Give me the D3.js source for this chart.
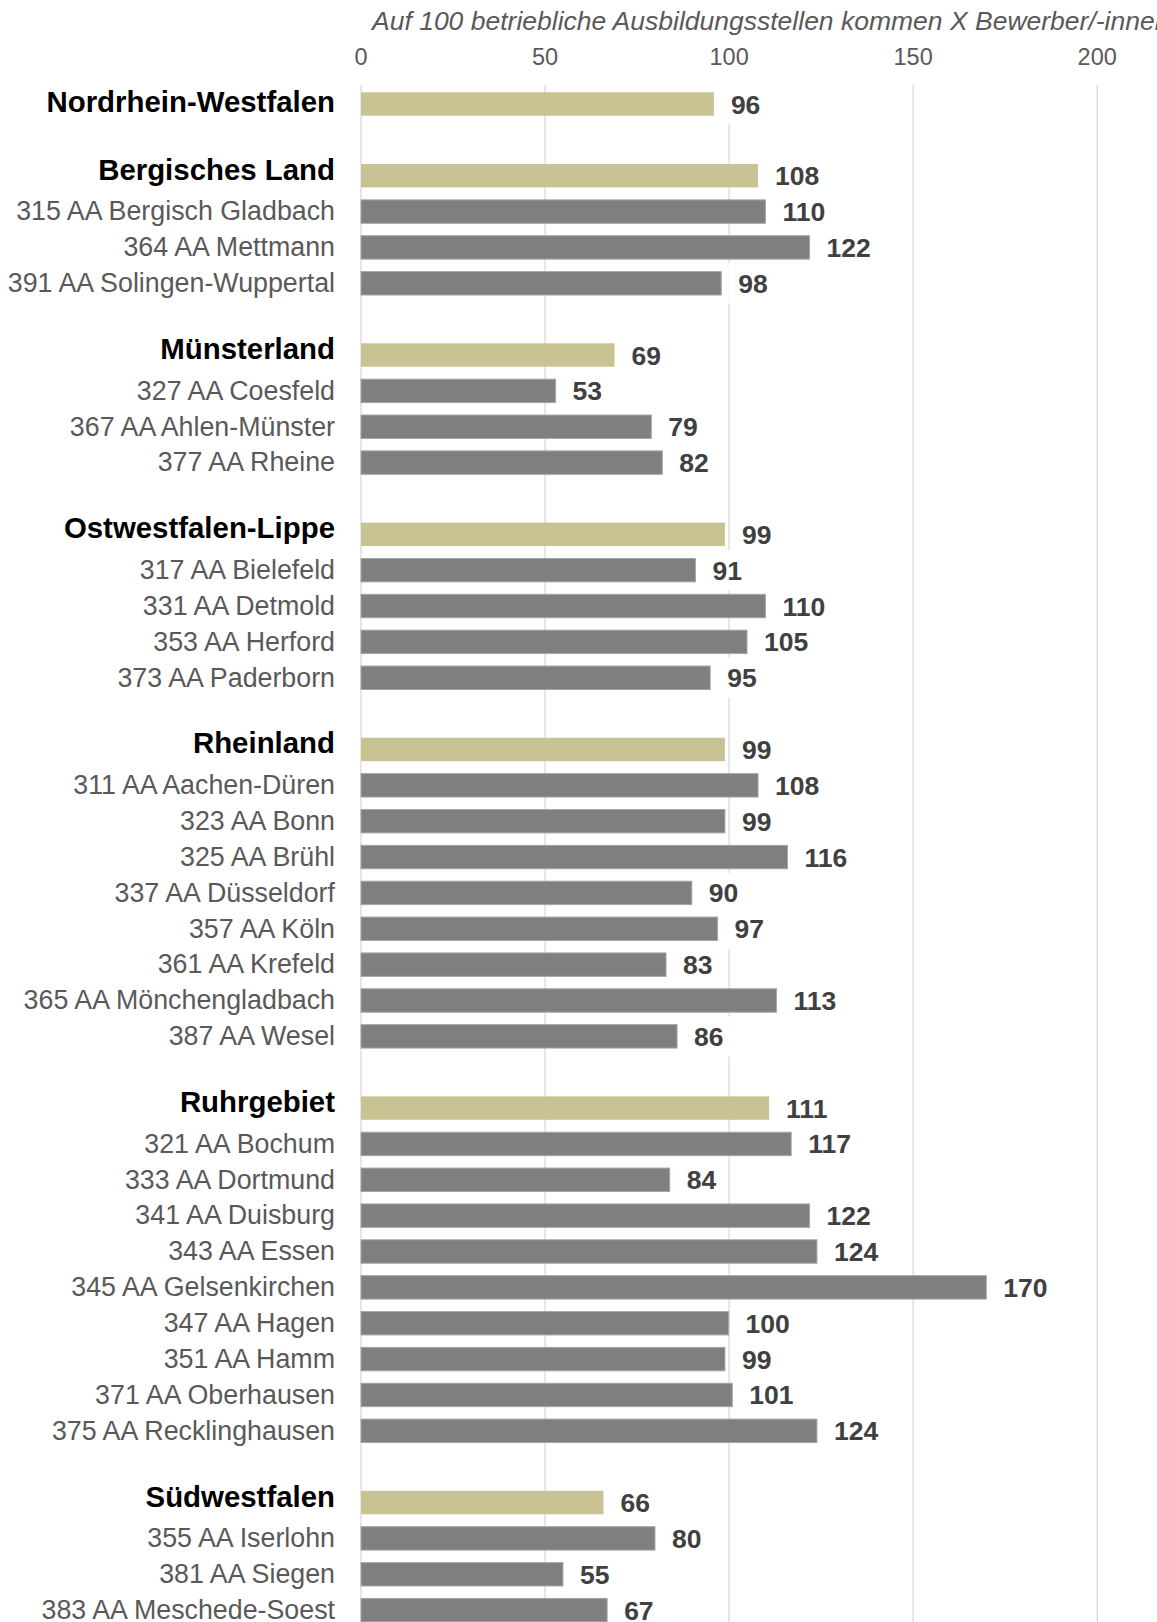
<!DOCTYPE html>
<html>
<head>
<meta charset="utf-8">
<script src="https://cdn.jsdelivr.net/npm/d3@7"></script>
<style>
  html, body { margin: 0; padding: 0; background: #fff; overflow: hidden; }
  svg { display: block; font-family: "Liberation Sans", Arial, sans-serif; }
</style>
</head>
<body>
<svg id="chart" width="1157" height="1622"></svg>
<script>
// ---- data ----
const rowLabels = [
  "Nordrhein-Westfalen", "",
  "Bergisches Land", "315 AA Bergisch Gladbach", "364 AA Mettmann", "391 AA Solingen-Wuppertal", "",
  "Münsterland", "327 AA Coesfeld", "367 AA Ahlen-Münster", "377 AA Rheine", "",
  "Ostwestfalen-Lippe", "317 AA Bielefeld", "331 AA Detmold", "353 AA Herford", "373 AA Paderborn", "",
  "Rheinland", "311 AA Aachen-Düren", "323 AA Bonn", "325 AA Brühl", "337 AA Düsseldorf", "357 AA Köln",
  "361 AA Krefeld", "365 AA Mönchengladbach", "387 AA Wesel", "",
  "Ruhrgebiet", "321 AA Bochum", "333 AA Dortmund", "341 AA Duisburg", "343 AA Essen", "345 AA Gelsenkirchen",
  "347 AA Hagen", "351 AA Hamm", "371 AA Oberhausen", "375 AA Recklinghausen", "",
  "Südwestfalen", "355 AA Iserlohn", "381 AA Siegen", "383 AA Meschede-Soest"
];
const rowValues = [
  96, null,
  108, 110, 122, 98, null,
  69, 53, 79, 82, null,
  99, 91, 110, 105, 95, null,
  99, 108, 99, 116, 90, 97, 83, 113, 86, null,
  111, 117, 84, 122, 124, 170, 100, 99, 101, 124, null,
  66, 80, 55, 67
];
const rowKinds = [
  "total", "gap",
  "region", "office", "office", "office", "gap",
  "region", "office", "office", "office", "gap",
  "region", "office", "office", "office", "office", "gap",
  "region", "office", "office", "office", "office", "office", "office", "office", "office", "gap",
  "region", "office", "office", "office", "office", "office", "office", "office", "office", "office", "gap",
  "region", "office", "office", "office"
];
const xTicks = [0, 50, 100, 150, 200];
const axisTitle = "Auf 100 betriebliche Ausbildungsstellen kommen X Bewerber/-innen";

// ---- layout ----
const svg = d3.select("#chart");
const rows = rowLabels.map((label, i) => ({ i, label, value: rowValues[i], kind: rowKinds[i] }));
const isBold = d => d.kind === "region" || d.kind === "total";

const x = d3.scaleLinear().domain([0, 200]).range([360.5, 1096.7]);
const step = 35.86;
const y = d3.scaleBand()
  .domain(rows.map(d => d.i))
  .range([104 - step / 2, 104 - step / 2 + rows.length * step])
  .paddingInner(0.347)
  .paddingOuter(0.1735);
const yc = i => y(i) + y.bandwidth() / 2;

// title
svg.append("text")
  .attr("x", 372)
  .attr("y", 30)
  .attr("font-size", 26.5)
  .attr("font-style", "italic")
  .attr("fill", "#595959")
  .text(axisTitle);

// top axis ticks + gridlines
const axis = svg.append("g").attr("transform", "translate(0,85)")
  .call(d3.axisTop(x).tickValues(xTicks).tickSize(-1560).tickPadding(20));
axis.select(".domain").remove();
axis.selectAll(".tick line").attr("stroke", "#d9d9d9").attr("stroke-width", 1.3);
axis.selectAll(".tick text")
  .attr("font-size", 23.5)
  .attr("fill", "#595959")
  .attr("font-family", "Liberation Sans, Arial, sans-serif");

const dataRows = rows.filter(d => d.kind !== "gap");

// bars
svg.append("g").selectAll("rect")
  .data(dataRows)
  .join("rect")
  .attr("x", x(0) + 0.5)
  .attr("y", d => y(d.i))
  .attr("width", d => x(d.value) - x(0) - 0.5)
  .attr("height", y.bandwidth())
  .attr("fill", d => isBold(d) ? "#c9c393" : "#7f7f7f")
  .attr("stroke", d => isBold(d) ? "none" : "#a6a6a6")
  .attr("stroke-width", 1);

// value labels with white boxes
const vl = svg.append("g").selectAll("g")
  .data(dataRows)
  .join("g")
  .attr("transform", d => `translate(${x(d.value) + 17},${yc(d.i)})`);
vl.append("text")
  .attr("y", 9.5)
  .attr("font-size", 26.5)
  .attr("font-weight", "bold")
  .attr("fill", "#404040")
  .text(d => d.value);
vl.each(function() {
  const g = d3.select(this);
  const w = g.select("text").node().getComputedTextLength();
  g.insert("rect", "text")
    .attr("x", -10).attr("y", -20)
    .attr("width", w + 20).attr("height", 40)
    .attr("fill", "#fff");
});

// row labels
svg.append("g").selectAll("text")
  .data(dataRows)
  .join("text")
  .attr("x", 335)
  .attr("y", d => yc(d.i) + (d.kind === "total" ? 7.5 : d.kind === "region" ? 4 : 8.8))
  .attr("text-anchor", "end")
  .attr("font-size", d => isBold(d) ? 29.4 : 26.8)
  .attr("font-weight", d => isBold(d) ? "bold" : "normal")
  .attr("fill", d => isBold(d) ? "#000" : "#595959")
  .text(d => d.label);
</script>
</body>
</html>
